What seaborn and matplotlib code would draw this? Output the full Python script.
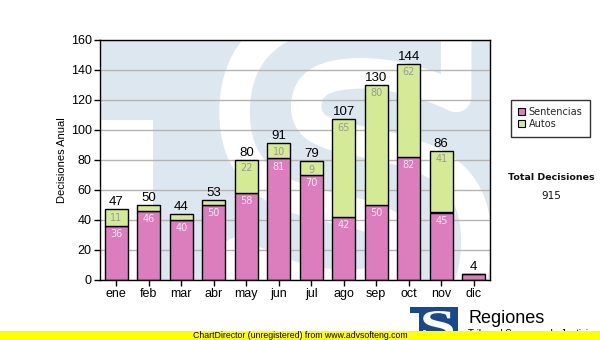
import matplotlib
matplotlib.use("Agg")
import matplotlib.pyplot as plt
import pandas as pd
import seaborn as sns
from matplotlib.textpath import TextPath
from matplotlib.font_manager import FontProperties
from matplotlib.patches import PathPatch, Rectangle
from matplotlib.transforms import Affine2D

# Monthly decisions
meses = ["ene", "feb", "mar", "abr", "may", "jun", "jul", "ago", "sep", "oct", "nov", "dic"]
sentencias = [36, 46, 40, 50, 58, 81, 70, 42, 50, 82, 45, 4]
autos = [11, 4, 4, 3, 22, 10, 9, 65, 80, 62, 41, 0]
totales = [s + a for s, a in zip(sentencias, autos)]
y_ticks = [0, 20, 40, 60, 80, 100, 120, 140, 160]
series_names = ["Sentencias", "Autos"]
total_title = "Total Decisiones"
total_value = sum(totales)

PINK = "#dc7dbd"
GREEN = "#d4ea94"
WM_BLUE = "#dde7f0"

sns.set_theme(style="ticks")
plt.rcParams["font.family"] = ["Liberation Sans", "DejaVu Sans"]

W, H = 600, 340
fig = plt.figure(figsize=(W / 100, H / 100), dpi=100)
fig.patch.set_facecolor("white")
ax = fig.add_axes([100 / W, 60 / H, 390 / W, 240 / H])
ax.set_facecolor(WM_BLUE)

# Watermark logo behind the bars: white area left of the T stem and an outlined S
ax.add_patch(Rectangle((0, 0), 0.135, 0.665, transform=ax.transAxes,
                       facecolor="white", edgecolor="none", zorder=0.1))
s_path = TextPath((0, 0), "S", size=1,
                  prop=FontProperties(family="DejaVu Sans", weight="bold"))
bb = s_path.get_extents()
s_tr = (Affine2D().translate(-bb.x0, -bb.y0)
        .scale(0.62 / bb.width, 1.38 / bb.height)
        .translate(0.345, -0.27) + ax.transAxes)
ax.add_patch(PathPatch(s_path, transform=s_tr, facecolor=WM_BLUE,
                       edgecolor="white", linewidth=22, joinstyle="round",
                       zorder=0.2))

df = pd.DataFrame({"mes": meses, "Sentencias": sentencias, "Autos": autos})

sns.barplot(data=df, x="mes", y="Sentencias", color=PINK, saturation=1,
            width=0.71, edgecolor="black", linewidth=1, ax=ax, zorder=2)
sns.barplot(data=df, x="mes", y="Autos", color=GREEN, saturation=1,
            width=0.71, edgecolor="black", linewidth=1, ax=ax, zorder=2)
# stack the Autos segments on top of Sentencias
for patch, base in zip(ax.containers[1], sentencias):
    patch.set_y(base)

ax.set_ylim(0, 160)
ax.set_yticks(y_ticks)
ax.set_axisbelow(True)
ax.yaxis.grid(True, color="#b4b4b4", linewidth=1)
ax.xaxis.grid(False)
for sp in ax.spines.values():
    sp.set_visible(True)
    sp.set_color("black")
    sp.set_linewidth(1)
ax.tick_params(axis="both", direction="out", length=4, width=1, color="black",
               labelsize=9, labelcolor="black", pad=2)
ax.set_xlabel("")
ax.set_ylabel("Decisiones Anual", fontsize=8, color="black")
ax.yaxis.set_label_coords(-33 / 390, 0.5)

# Value labels
for i, (s, a, t) in enumerate(zip(sentencias, autos, totales)):
    ax.annotate(str(t), (i, t), xytext=(0, 1), textcoords="offset points",
                ha="center", va="bottom", fontsize=9.5, color="black", zorder=5)
    if s >= 8:
        ax.annotate(str(s), (i, s), xytext=(0, -2.5), textcoords="offset points",
                    ha="center", va="top", fontsize=7, color="#f7e8f2",
                    family="DejaVu Sans", zorder=5)
    if a >= 8:
        ax.annotate(str(a), (i, t), xytext=(0, -2.5), textcoords="offset points",
                    ha="center", va="top", fontsize=7, color="#9a9a9a",
                    family="DejaVu Sans", zorder=5)

# Legend
handles = [Rectangle((0, 0), 1, 1, facecolor=PINK, edgecolor="black", linewidth=0.8),
           Rectangle((0, 0), 1, 1, facecolor=GREEN, edgecolor="black", linewidth=0.8)]
leg = fig.legend(handles, series_names, loc="upper left",
                 bbox_to_anchor=(511 / W, 1 - 100 / H), frameon=True, fancybox=False,
                 prop=FontProperties(family="DejaVu Sans", size=7),
                 handlelength=0.7, handleheight=0.7, handletextpad=0.35,
                 borderpad=0.75, labelspacing=0.2, borderaxespad=0)
leg.get_frame().set_edgecolor("black")
leg.get_frame().set_linewidth(1)

fig.text(551 / W, 1 - 178 / H, total_title, ha="center", va="center",
         fontsize=6.8, fontweight="bold", family="DejaVu Sans", color="#111111")
fig.text(551 / W, 1 - 196 / H, str(total_value), ha="center", va="center",
         fontsize=7.5, family="DejaVu Sans", color="#111111")

# Footer logo
fig.patches.append(Rectangle((410 / W, 0), 48 / W, 33 / H, transform=fig.transFigure,
                             facecolor="#17498c", edgecolor="none", zorder=1))
fig.patches.append(Rectangle((410 / W, 0), 9 / W, 27 / H, transform=fig.transFigure,
                             facecolor="white", edgecolor="none", zorder=1.5))
logo_s = TextPath((0, 0), "S", size=1,
                  prop=FontProperties(family="Liberation Serif", weight="bold"))
lb = logo_s.get_extents()
logo_tr = (Affine2D().translate(-lb.x0, -lb.y0)
           .scale((30 / W) / lb.width, (28 / H) / lb.height)
           .translate(423 / W, 1 / H) + fig.transFigure)
fig.patches.append(PathPatch(logo_s, transform=logo_tr, facecolor="white",
                             edgecolor="none", zorder=2))
fig.text(468 / W, 1 - 323 / H, "Regiones", ha="left", va="baseline",
         fontsize=13, color="black", zorder=2)
fig.text(468 / W, 1 - 329 / H, "Tribunal Supremo de Justicia", ha="left", va="top",
         fontsize=7, color="black", zorder=2)

# Unregistered banner
fig.patches.append(Rectangle((0, 0), 1, 9 / H, transform=fig.transFigure,
                             facecolor="#ffff00", edgecolor="none", zorder=10))
fig.text(0.5, 4.5 / H, "ChartDirector (unregistered) from www.advsofteng.com",
         ha="center", va="center", fontsize=6.3, color="black", zorder=11)

fig.savefig("out.png", dpi=100)
